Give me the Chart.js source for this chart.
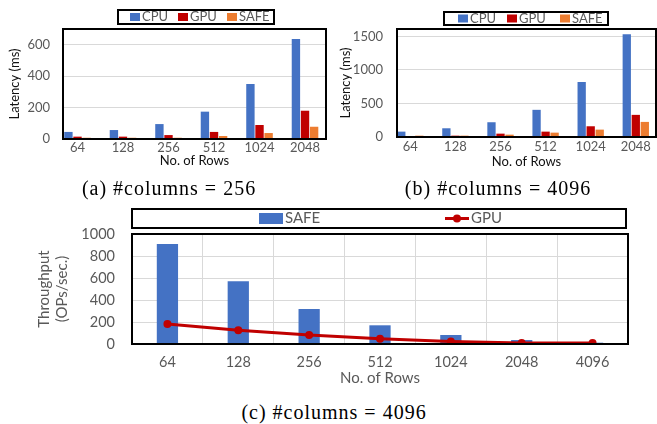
<!DOCTYPE html>
<html>
<head>
<meta charset="utf-8">
<script src="https://cdn.jsdelivr.net/npm/chart.js@4.4.1/dist/chart.umd.min.js"></script>
<style>
    html, body { margin: 0; padding: 0; background: #fff; }
    #wrap { position: relative; width: 657px; height: 424px; overflow: hidden; }
    canvas { position: absolute; }
    .cap {
        position: absolute;
        font-family: 'Liberation Serif', 'Times New Roman', serif;
        font-size: 20px;
        letter-spacing: 1px;
        line-height: 1;
        color: #000;
        white-space: nowrap;
        transform: translate(-50%, -50%);
    }
</style>
</head>
<body>
<div id="wrap">
    <canvas id="chartA" width="330" height="172" style="left:0;top:0"></canvas>
    <canvas id="chartB" width="327" height="172" style="left:330px;top:0"></canvas>
    <canvas id="chartC" width="657" height="200" style="left:0;top:195px"></canvas>
    <div class="cap" style="left:169px;top:188px">(a) #columns = 256</div>
    <div class="cap" style="left:498px;top:188px">(b) #columns = 4096</div>
    <div class="cap" style="left:334px;top:412px">(c) #columns = 4096</div>
</div>
<script>
// Data

// (a) latency, #columns = 256
const rowsA = ['64', '128', '256', '512', '1024', '2048'];
const cpuA = [45, 57, 95, 174, 350, 636];
const gpuA = [15, 15, 25, 45, 89, 180];
const safeA = [8, 8, 8, 19, 38, 78];
const ticksA = [0, 200, 400, 600];

// (b) latency, #columns = 4096
const rowsB = ['64', '128', '256', '512', '1024', '2048'];
const cpuB = [80, 130, 220, 405, 820, 1530];
const gpuB = [10, 20, 50, 80, 160, 330];
const safeB = [20, 20, 35, 65, 110, 225];
const ticksB = [0, 500, 1000, 1500];

// (c) throughput, #columns = 4096
const rowsC = ['64', '128', '256', '512', '1024', '2048', '4096'];
const safeC = [909, 570, 318, 170, 82, 36, 12];
const gpuC = [182, 124, 82, 48, 22, 10, 9];
const ticksC = [0, 200, 400, 600, 800, 1000];

Chart.defaults.font.family = 'Lato';

const BLUE = '#4472C4';
const RED = '#C00000';
const ORANGE = '#ED7D31';
const GRAY = '#595959';
const GRID = '#D9D9D9';

// Black frame round the plot area + boxed legend (Excel style)
const framePlugin = {
    id: 'frame',
    afterDraw(chart, args, opts) {
        const { ctx, chartArea: a } = chart;
        ctx.save();
        ctx.strokeStyle = '#000';
        ctx.lineWidth = opts.width;
        ctx.strokeRect(a.left, a.top, a.right - a.left, a.bottom - a.top);

        const lg = opts.legend;
        ctx.lineWidth = 2;
        ctx.strokeRect(lg.left, lg.top, lg.right - lg.left, lg.bottom - lg.top);
        const cy = (lg.top + lg.bottom) / 2;
        ctx.font = lg.size + 'px Lato';
        ctx.textBaseline = 'middle';
        chart.data.datasets.forEach((ds, i) => {
            const x = lg.items[i];
            if (ds.type === 'line') {
                ctx.strokeStyle = ds.borderColor;
                ctx.lineWidth = ds.borderWidth;
                ctx.beginPath();
                ctx.moveTo(x, cy);
                ctx.lineTo(x + lg.markW, cy);
                ctx.stroke();
                ctx.fillStyle = ds.borderColor;
                ctx.beginPath();
                ctx.arc(x + lg.markW / 2, cy, ds.pointRadius, 0, Math.PI * 2);
                ctx.fill();
            } else {
                ctx.fillStyle = ds.backgroundColor;
                ctx.fillRect(x, cy - lg.markH / 2, lg.markW, lg.markH);
            }
            ctx.fillStyle = GRAY;
            ctx.fillText(ds.label, x + lg.markW + lg.gap, cy);
        });
        ctx.restore();
    }
};

const fixedTicks = list => s => { s.ticks = list.map(v => ({ value: v })); };

function latencyChart(id, rows, cpu, gpu, safe, yTicks, cfg) {
    const toXY = arr => arr.map((y, i) => ({ x: i, y: y }));
    return new Chart(document.getElementById(id), {
        type: 'bar',
        data: {
            datasets: [
                { label: 'CPU', data: toXY(cpu), backgroundColor: BLUE },
                { label: 'GPU', data: toXY(gpu), backgroundColor: RED },
                { label: 'SAFE', data: toXY(safe), backgroundColor: ORANGE }
            ]
        },
        options: {
            responsive: false,
            animation: false,
            layout: { padding: cfg.padding },
            datasets: { bar: { categoryPercentage: 0.6, barPercentage: 0.92 } },
            plugins: {
                legend: { display: false },
                tooltip: { enabled: false },
                frame: cfg.frame
            },
            scales: {
                x: {
                    type: 'linear',
                    min: cfg.xMin,
                    max: cfg.xMax,
                    offset: false,
                    grid: { display: false, drawTicks: false },
                    border: { display: false },
                    ticks: {
                        stepSize: 1,
                        includeBounds: false,
                        padding: cfg.xTickPad,
                        color: GRAY,
                        font: { size: 13 },
                        callback: v => rows[v]
                    },
                    title: {
                        display: true,
                        text: 'No. of Rows',
                        color: '#111',
                        font: { size: 13 },
                        padding: { top: 0, bottom: cfg.xTitlePad }
                    },
                    afterFit: s => { s.height = cfg.xHeight; }
                },
                y: {
                    min: 0,
                    max: cfg.yMax,
                    afterBuildTicks: fixedTicks(yTicks),
                    grid: { color: GRID, drawTicks: false },
                    border: { display: false },
                    ticks: {
                        padding: cfg.yTickPad,
                        color: GRAY,
                        font: { size: 13 },
                        callback: v => String(v)
                    },
                    title: {
                        display: true,
                        text: 'Latency (ms)',
                        color: '#111',
                        font: { size: 13 },
                        padding: { top: cfg.yTitlePad, bottom: 0 }
                    },
                    afterFit: s => { s.width = cfg.yWidth; }
                }
            }
        },
        plugins: [framePlugin]
    });
}

// (a)
latencyChart('chartA', rowsA, cpuA, gpuA, safeA, ticksA, {
    padding: { top: 29, left: 0, right: 4, bottom: 0 },
    xMin: -0.319, xMax: 5.461,
    yMax: 700,
    yWidth: 63, xHeight: 33,
    xTickPad: 1, xTitlePad: 3, yTickPad: 13, yTitlePad: 7,
    frame: {
        width: 2,
        legend: { left: 118, right: 274, top: 10, bottom: 24, items: [130, 178, 227], markW: 10, markH: 8, gap: 2, size: 13 }
    }
});

// (b)
latencyChart('chartB', rowsB, cpuB, gpuB, safeB, ticksB, {
    padding: { top: 29, left: 0, right: 1, bottom: 0 },
    xMin: -0.295, xMax: 5.448,
    yMax: 1610,
    yWidth: 67, xHeight: 35,
    xTickPad: 2, xTitlePad: 2, yTickPad: 14, yTitlePad: 8,
    frame: {
        width: 2,
        legend: { left: 114, right: 278, top: 12, bottom: 25, items: [128, 177, 230], markW: 10, markH: 8, gap: 2, size: 13 }
    }
});

// (c)
new Chart(document.getElementById('chartC'), {
    type: 'bar',
    data: {
        labels: rowsC,
        datasets: [
            {
                label: 'SAFE',
                data: safeC,
                backgroundColor: BLUE,
                categoryPercentage: 0.3,
                barPercentage: 1,
                order: 1
            },
            {
                type: 'line',
                label: 'GPU',
                data: gpuC,
                borderColor: RED,
                backgroundColor: RED,
                borderWidth: 3,
                pointRadius: 4,
                pointBackgroundColor: RED,
                pointBorderWidth: 0,
                tension: 0,
                order: 0
            }
        ]
    },
    options: {
        responsive: false,
        animation: false,
        layout: { padding: { top: 39, left: 0, right: 29, bottom: 0 } },
        plugins: {
            legend: { display: false },
            tooltip: { enabled: false },
            frame: {
                width: 2,
                legend: { left: 132, right: 626, top: 14, bottom: 33, items: [259, 445], markW: 24, markH: 11, gap: 2, size: 15 }
            }
        },
        scales: {
            x: {
                grid: { color: GRID, drawTicks: false },
                border: { display: false },
                ticks: { padding: 10, color: GRAY, font: { size: 14.5 } },
                title: {
                    display: true,
                    text: 'No. of Rows',
                    color: GRAY,
                    font: { size: 15 },
                    padding: { top: 0, bottom: 8 }
                },
                afterFit: s => { s.height = 51; }
            },
            y: {
                min: 0,
                max: 1000,
                afterBuildTicks: fixedTicks(ticksC),
                grid: { color: GRID, drawTicks: false },
                border: { display: false },
                ticks: { padding: 17, color: GRAY, font: { size: 14.5 }, callback: v => String(v) },
                title: {
                    display: true,
                    text: ['Throughput', '(OPs/sec.)'],
                    color: GRAY,
                    font: { size: 15, lineHeight: 1.15 },
                    padding: { top: 36, bottom: 0 }
                },
                afterFit: s => { s.width = 132; }
            }
        }
    },
    plugins: [framePlugin]
});
</script>
</body>
</html>
